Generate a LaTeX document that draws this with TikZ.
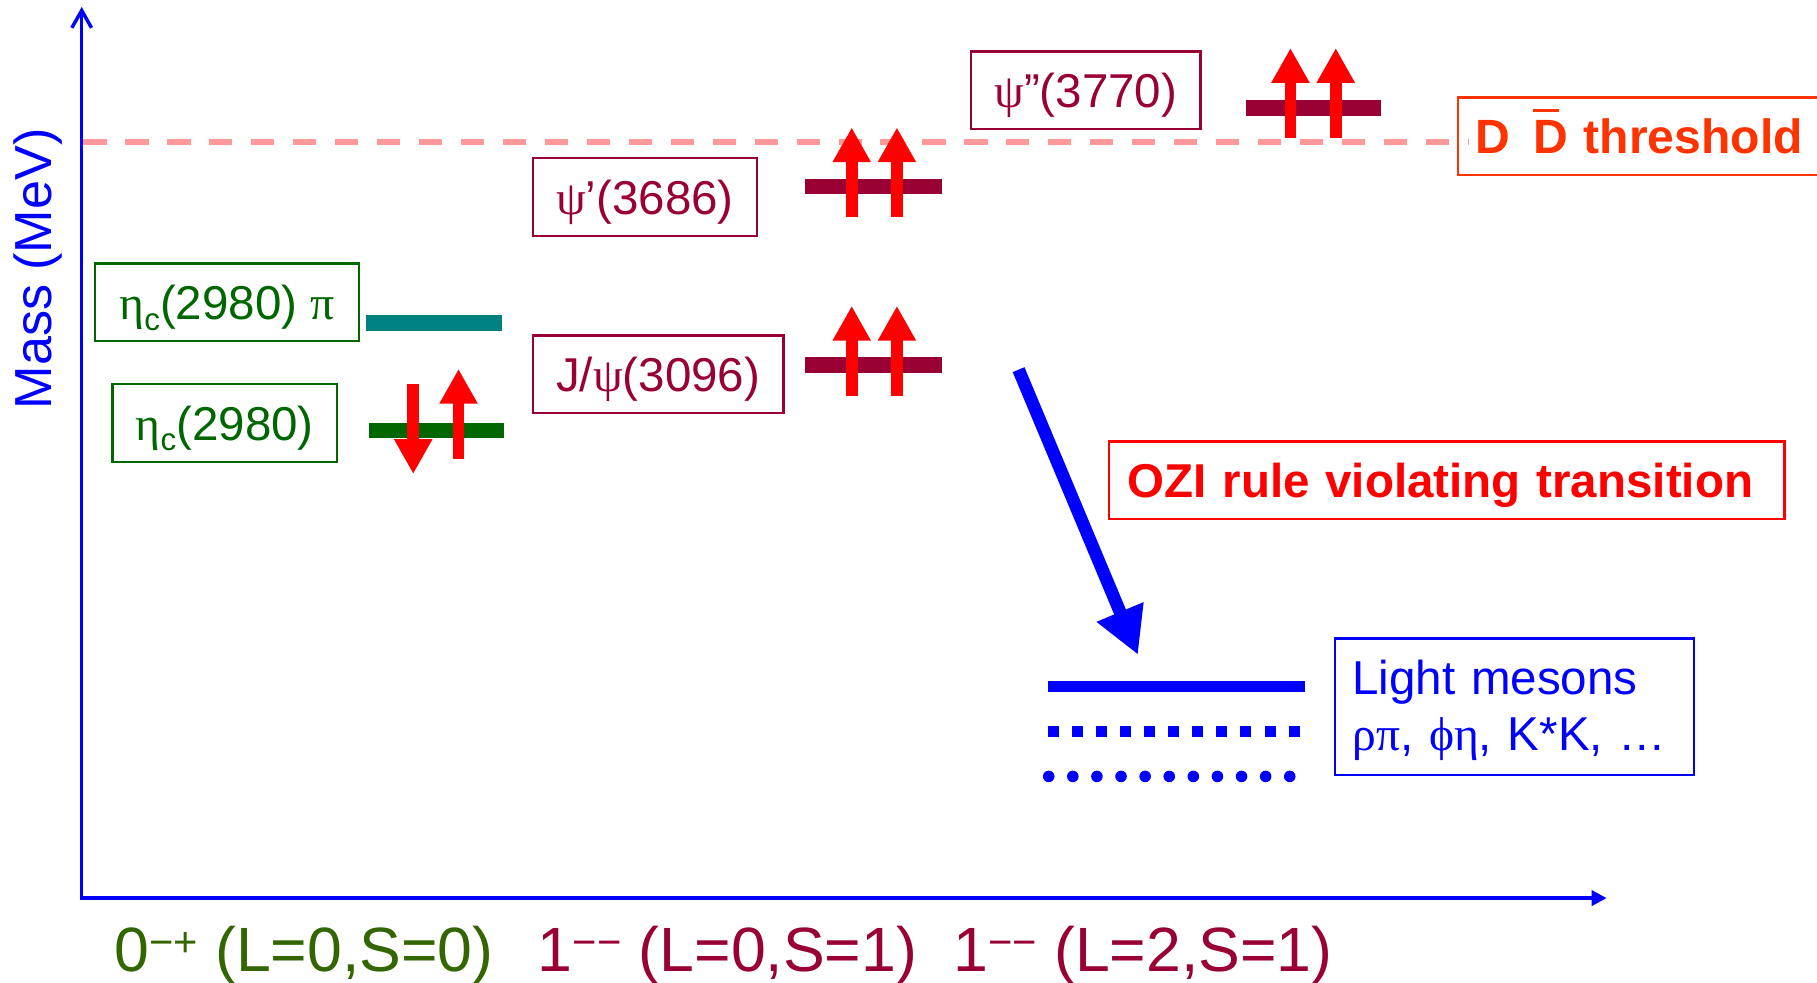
\documentclass[tikz,border=0pt]{standalone}
\usepackage{fontspec}
\setmainfont{Liberation Sans}
\newfontfamily\grkfont{Liberation Serif}
\usetikzlibrary{arrows.meta}

\definecolor{axisblue}{HTML}{0000FF}
\definecolor{charm}{HTML}{990033}
\definecolor{etagreen}{HTML}{006600}
\definecolor{pionteal}{HTML}{008080}
\definecolor{spinred}{HTML}{FF0000}
\definecolor{thrpink}{HTML}{FF9999}
\definecolor{throrange}{HTML}{FF3300}
\definecolor{jpcolive}{HTML}{336600}

% Greek letters in a serif face, subscript c, quantum-number superscripts
\newcommand\gk[1]{{\grkfont #1}}
\newcommand\subc{\raisebox{-9pt}{\fontsize{27}{27}\selectfont c}}
\newcommand\supq[1]{\raisebox{13pt}{\fontsize{36}{36}\selectfont #1}}
\newcommand\barD{\leavevmode\rlap{\rule[0.87em]{0.54em}{0.06em}}D}
\newcommand\lowline[1]{\raisebox{-3pt}[\height][\depth]{#1}}

\tikzset{
  lvl/.style={line width=13.5pt},
  spin/.style={spinred, line width=10pt, -{Triangle[length=30pt,width=31pt]}},
  lbox/.style={draw, line width=2pt, outer sep=0pt, inner sep=0pt,
    minimum height=67pt, text height=37pt, text depth=7pt,
    font=\fontsize{41}{49}\selectfont},
  jpc/.style={anchor=base west, inner sep=0pt, font=\fontsize{54}{60}\selectfont},
}

\begin{document}
\begin{tikzpicture}[x=1pt, y=-1pt]
\useasboundingbox (0,0) rectangle (1568,848);

% D Dbar threshold line
\draw[thrpink, line width=5pt, dash pattern=on 20pt off 16.2pt] (72,122.8) -- (1268,122.8);

% axes
\draw[axisblue, line width=3pt, -{Straight Barb[length=15pt,width=17pt]}] (70.5,775) -- (70.5,6);
\draw[axisblue, line width=3pt, -{Triangle[length=13pt,width=13pt]}] (69,775) -- (1386.5,775);
\node[rotate=90, anchor=base west, inner sep=0pt, text=axisblue,
  font=\fontsize{45}{50}\selectfont] (mass) at (44.6,353.5) {Mass (MeV)};

% state labels
\node[lbox, draw=etagreen, text=etagreen, minimum width=228pt] (etapi) at (196,261) {\gk{η}\subc(2980) \gk{π}};
\node[lbox, draw=etagreen, text=etagreen, minimum width=194pt] (etac) at (194,365) {\gk{η}\subc(2980)};
\node[lbox, draw=charm, text=charm, minimum width=193pt] (psip) at (556.5,170) {\gk{ψ}’(3686)};
\node[lbox, draw=charm, text=charm, minimum width=216pt] (jpsi) at (568,323) {J/\gk{ψ}(3096)};
\node[lbox, draw=charm, text=charm, minimum width=198pt] (psipp) at (937,78) {\gk{ψ}”(3770)};

\node[draw=throrange, text=throrange, line width=2pt, outer sep=0pt, anchor=west,
  minimum height=67pt, inner xsep=15pt, inner ysep=0pt, text width=300pt, align=left,
  text height=37pt, text depth=7pt,
  font=\bfseries\fontsize{41.5}{49}\selectfont] (thr) at (1258,117.6)
  {D\hspace{20pt}\barD\ threshold};

% energy levels
\draw[lvl, pionteal] (316,279) -- (433,279);
\draw[lvl, etagreen] (318,371.4) -- (435,371.4);
\draw[lvl, charm] (695,161) -- (813,161);
\draw[lvl, charm] (695,315) -- (813,315);
\draw[lvl, charm] (1075,93) -- (1192,93);

% quark spins
\draw[spin] (356.6,331.4) -- (356.6,409);
\draw[spin] (395.7,396) -- (395.7,318.4);
\draw[spin] (735,187.6) -- (735,110);
\draw[spin] (774,187.6) -- (774,110);
\draw[spin] (735,341.5) -- (735,264);
\draw[spin] (774,341.5) -- (774,264);
\draw[spin] (1113.6,119) -- (1113.6,41.5);
\draw[spin] (1152.7,119) -- (1152.7,41.5);

% OZI suppressed decay to light hadrons
\coordinate (oziS) at (879,319);
\coordinate (oziE) at (982,565);
\draw[axisblue, line width=11pt, -{Triangle[length=40pt,width=41pt]}] (oziS) -- (oziE);
\node[draw=spinred, text=spinred, line width=2pt, outer sep=0pt, anchor=west,
  minimum height=67pt, inner xsep=16pt, inner ysep=0pt, text width=551pt, align=left,
  text height=37pt, text depth=7pt,
  font=\bfseries\fontsize{41}{49}\selectfont] (ozi) at (957,414.5)
  {OZI rule violating transition};

% light meson levels
\draw[axisblue, line width=10pt] (904,592.4) -- (1126,592.4);
\draw[axisblue, line width=10pt, dash pattern=on 9.5pt off 11.3pt] (904,631.4) -- (1122,631.4);
\draw[axisblue, line width=10pt, line cap=round, dash pattern=on 0pt off 20.8pt] (905,670) -- (1114,670);
\node[draw=axisblue, text=axisblue, line width=2pt, outer sep=0pt,
  minimum height=118pt, inner xsep=15pt, inner ysep=0pt, text width=280pt, align=left,
  font=\fontsize{41}{49}\selectfont] (light) at (1307,610)
  {\lowline{Light mesons}\\\lowline{\gk{ρπ}, \gk{ϕη}, K*K, …}};

% J^PC labels
\node[jpc, text=jpcolive] (jpc0) at (98.5,838.5) {0\supq{−+} (L=0,S=0)};
\node[jpc, text=charm] (jpc1) at (464,838.5) {1\supq{−−} (L=0,S=1)};
\node[jpc, text=charm] (jpc2) at (822.5,838.5) {1\supq{−−} (L=2,S=1)};
\end{tikzpicture}
\end{document}
